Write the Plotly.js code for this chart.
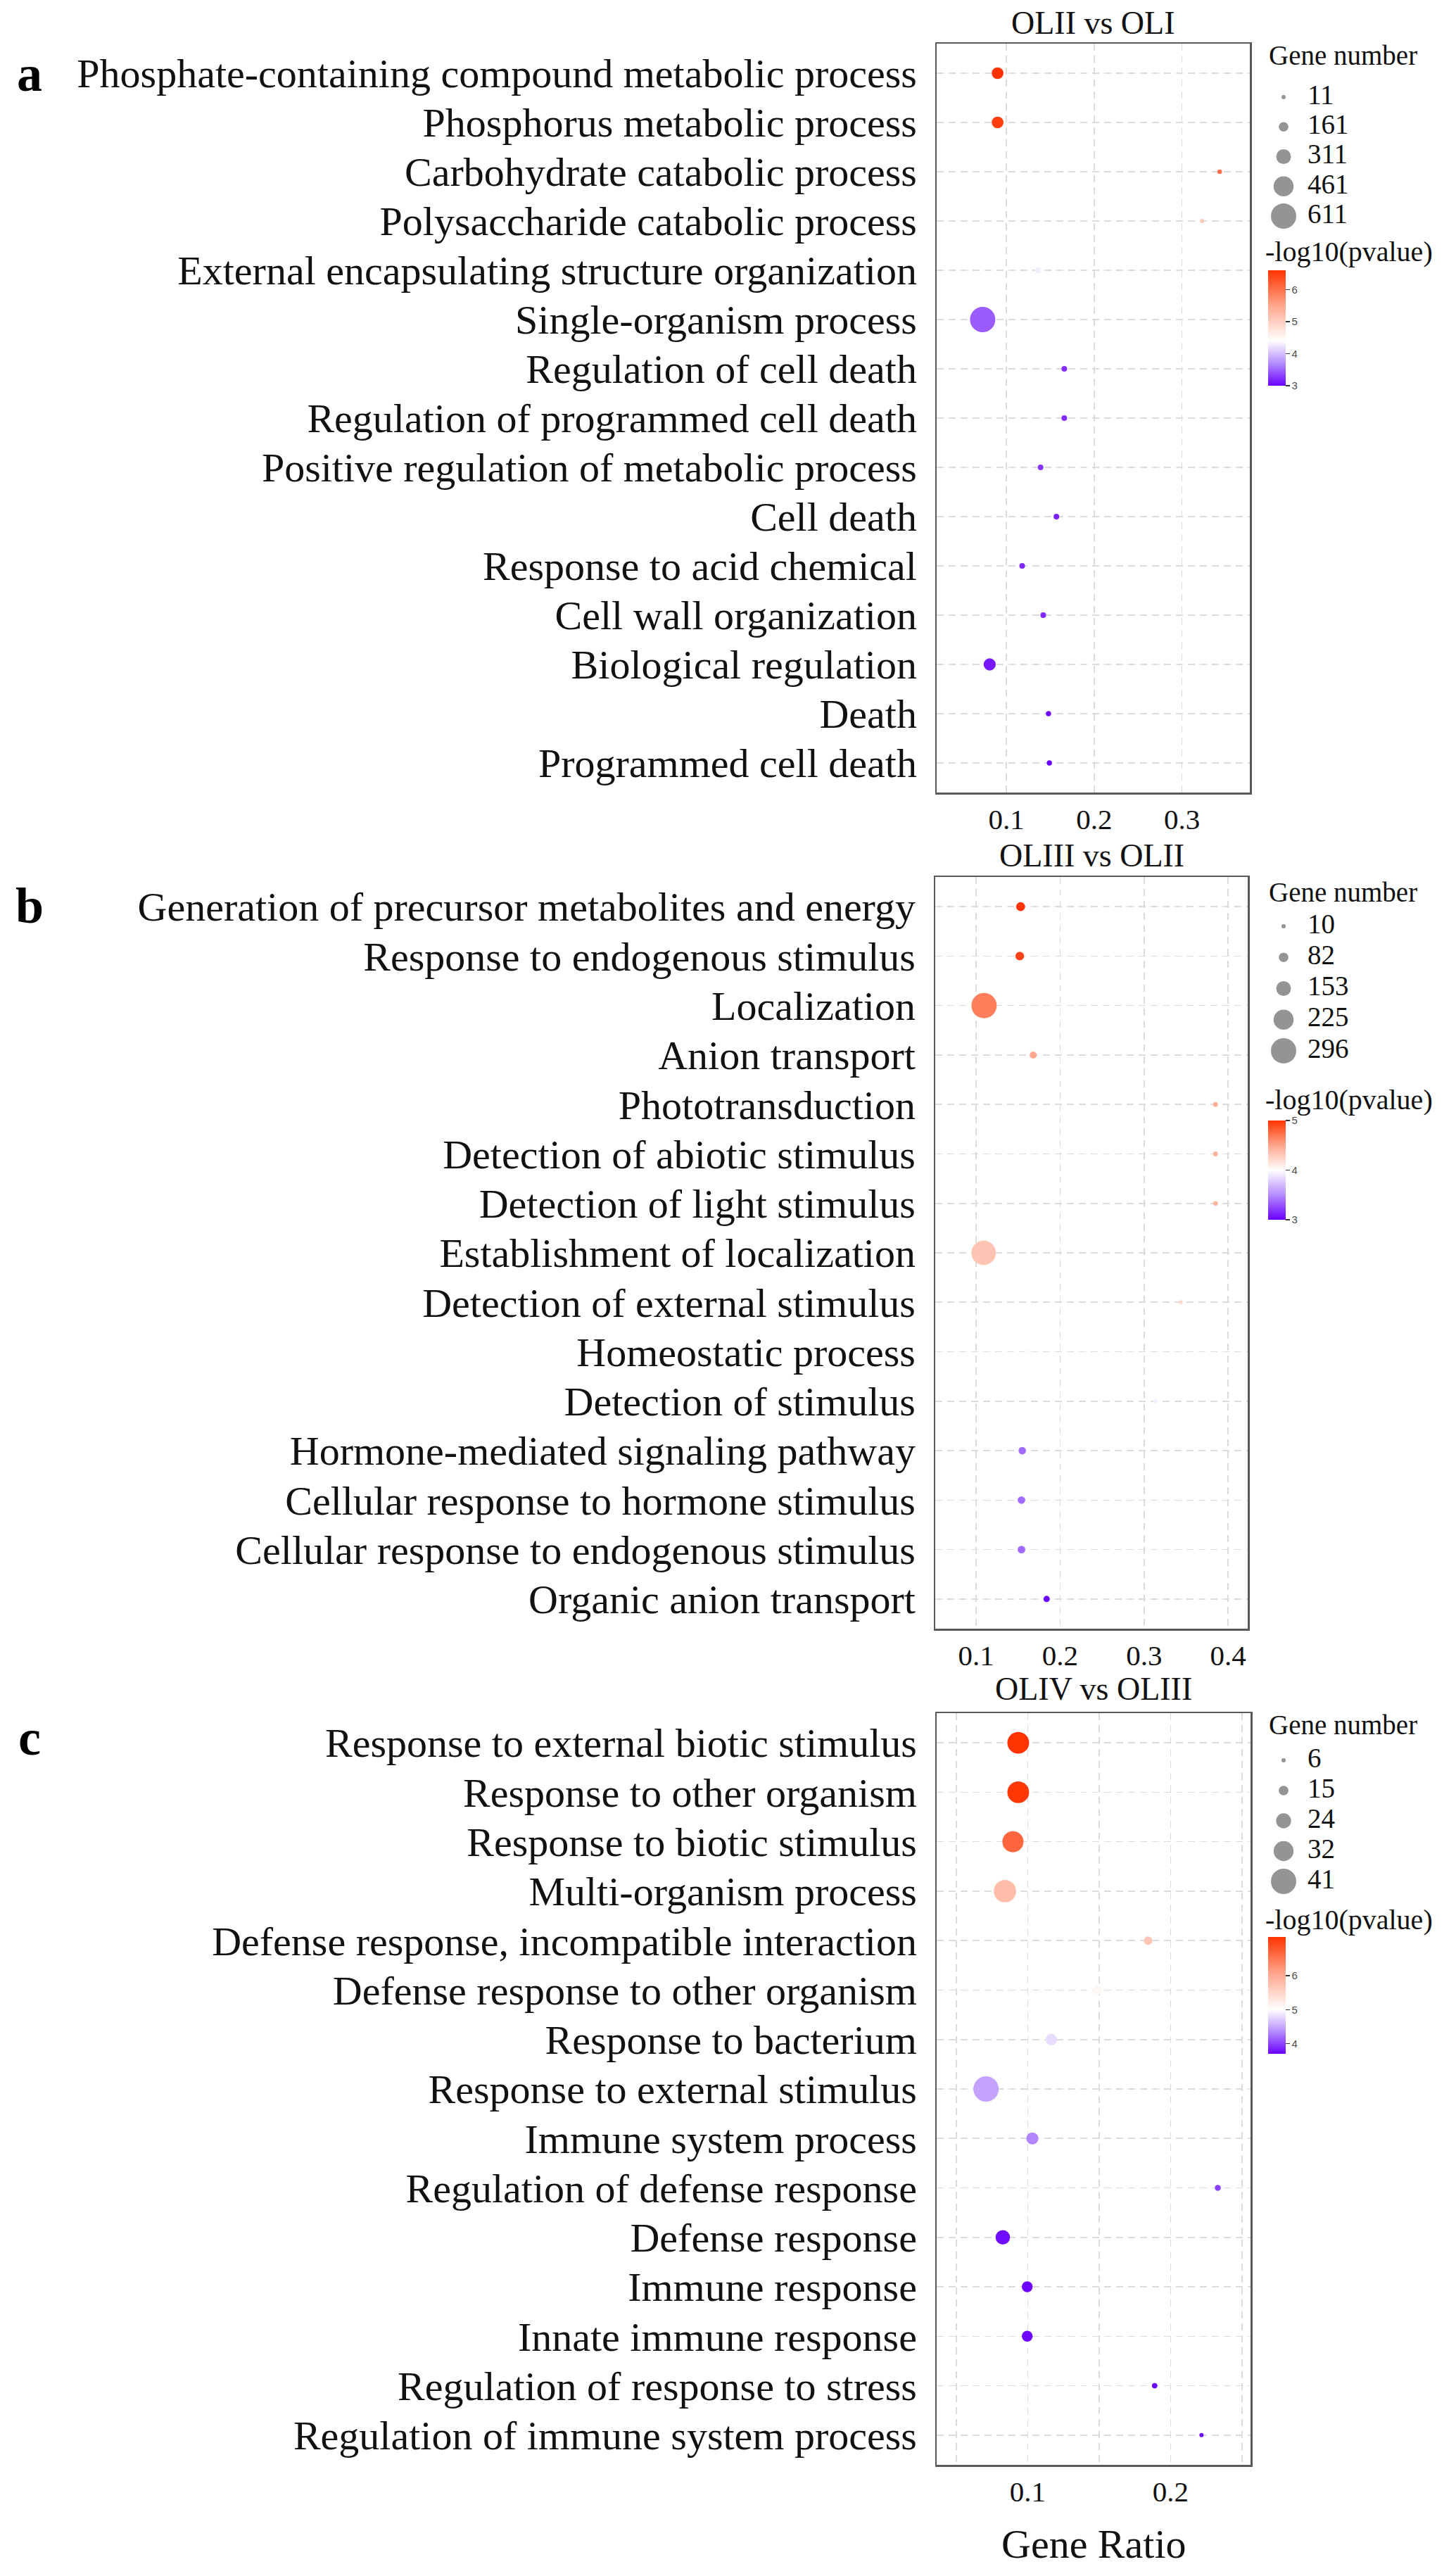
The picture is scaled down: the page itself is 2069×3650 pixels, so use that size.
<!DOCTYPE html>
<html>
<head>
<meta charset="utf-8">
<script src="https://cdn.plot.ly/plotly-3.0.1.min.js"></script>
<style>
html,body{margin:0;padding:0;background:#ffffff;}
#chart{width:2069px;height:3650px;}
</style>
</head>
<body>
<div id="chart"></div>
<script>
// ---------------- Panel a : OLII vs OLI ----------------
const titleA = "OLII vs OLI";
const termsA = ["Phosphate-containing compound metabolic process","Phosphorus metabolic process","Carbohydrate catabolic process","Polysaccharide catabolic process","External encapsulating structure organization","Single-organism process","Regulation of cell death","Regulation of programmed cell death","Positive regulation of metabolic process","Cell death","Response to acid chemical","Cell wall organization","Biological regulation","Death","Programmed cell death"];
const ratioA = [0.090,0.090,0.343,0.323,0.136,0.073,0.166,0.166,0.139,0.157,0.118,0.142,0.081,0.148,0.149];
const genesA = [225,225,24,11,60,611,51,51,51,51,51,53,237,38,38];
const logpA  = [6.6,6.5,6.0,5.05,4.3,3.46,3.23,3.22,3.25,3.15,3.2,3.2,3.12,3.05,3.0];
const sizeBreaksA = [11,161,311,461,611];
const colorTicksA = [3,4,5,6];
const xTickValsA = [0.1,0.2,0.3];
const xTickTextA = ["0.1","0.2","0.3"];

// ---------------- Panel b : OLIII vs OLII ----------------
const titleB = "OLIII vs OLII";
const termsB = ["Generation of precursor metabolites and energy","Response to endogenous stimulus","Localization","Anion transport","Phototransduction","Detection of abiotic stimulus","Detection of light stimulus","Establishment of localization","Detection of external stimulus","Homeostatic process","Detection of stimulus","Hormone-mediated signaling pathway","Cellular response to hormone stimulus","Cellular response to endogenous stimulus","Organic anion transport"];
const ratioB = [0.153,0.152,0.1095,0.168,0.385,0.385,0.385,0.109,0.3435,0.161,0.3135,0.155,0.154,0.154,0.184];
const genesB = [73,70,296,48,18,18,16,285,10,35,14,55,55,56,38];
const logpB  = [5.0,4.93,4.67,4.5,4.45,4.43,4.42,4.33,4.2,4.02,3.93,3.38,3.38,3.37,3.0];
const sizeBreaksB = [10,82,153,225,296];
const colorTicksB = [3,4,5];
const xTickValsB = [0.1,0.2,0.3,0.4];
const xTickTextB = ["0.1","0.2","0.3","0.4"];

// ---------------- Panel c : OLIV vs OLIII ----------------
const titleC = "OLIV vs OLIII";
const termsC = ["Response to external biotic stimulus","Response to other organism","Response to biotic stimulus","Multi-organism process","Defense response, incompatible interaction","Defense response to other organism","Response to bacterium","Response to external stimulus","Immune system process","Regulation of defense response","Defense response","Immune response","Innate immune response","Regulation of response to stress","Regulation of immune system process"];
const ratioC = [0.0934,0.0934,0.0897,0.0841,0.1843,0.1488,0.1166,0.0709,0.1033,0.2331,0.0826,0.0997,0.0997,0.1889,0.2217];
const genesC = [35,35,34,36,13,14,18,41,19,9,23,17,17,8,6];
const logpC  = [7.14,7.1,6.67,5.79,5.7,5.1,4.8,4.48,4.32,4.0,3.76,3.72,3.72,3.71,3.7];
const sizeBreaksC = [6,15,24,32,41];
const colorTicksC = [4,5,6];
const xTickValsC = [0.05,0.1,0.15,0.2,0.25];
const xTickTextC = ["","0.1","","0.2",""];

const xLabel = "Gene Ratio";
const sizeTitle = "Gene number";
const colorTitle = "-log10(pvalue)";
const panelLetters = ["a","b","c"];

// ---------------- styling / layout helpers ----------------
const W = 2069, H = 3650;
const SERIF = "Liberation Serif, Times New Roman, serif";
const px = v => v / W;
const py = v => 1 - v / H;

function sizeOf(v, br){
  const lo = br[0], hi = br[br.length-1];
  return 6 + 30 * (v - lo) / (hi - lo);
}
function scaleFor(vals, mid){
  const lo = Math.min(...vals), hi = Math.max(...vals);
  const w = (mid - lo) / (hi - lo);
  const wp = w / 2, wr = w + (1 - w) / 2;
  return [[0,'#6A00FF'],[wp,'#B48CFF'],[w,'#FFFFFF'],[wr,'#FFA68C'],[1,'#FF3300']];
}

const panels = [
  {terms:termsA, ratio:ratioA, genes:genesA, logp:logpA, br:sizeBreaksA, ct:colorTicksA, tv:xTickValsA, tt:xTickTextA, title:titleA,
   mid:4.4, box:[1331,1776,62,1126], xr:[0.0206,0.3773], titleY:33, letterY:105,
   leg:{gn:79, first:138, last:307, cl:358, cb:[384,548]}},
  {terms:termsB, ratio:ratioB, genes:genesB, logp:logpB, br:sizeBreaksB, ct:colorTicksB, tv:xTickValsB, tt:xTickTextB, title:titleB,
   mid:4.0, box:[1329,1773,1246,2314], xr:[0.0514,0.4233], titleY:1215, letterY:1287,
   leg:{gn:1267, first:1316, last:1493, cl:1562, cb:[1592,1733]}},
  {terms:termsC, ratio:ratioC, genes:genesC, logp:logpC, br:sizeBreaksC, ct:colorTicksC, tv:xTickValsC, tt:xTickTextC, title:titleC,
   mid:5.0, box:[1331,1777,2434,3502], xr:[0.0363,0.256], titleY:2399, letterY:2469,
   leg:{gn:2450, first:2501, last:2673, cl:2727, cb:[2752,2918]}}
];

const traces = [];
const layout = {
  width: W, height: H,
  margin:{l:0,r:0,t:0,b:0,pad:0},
  paper_bgcolor:'#ffffff', plot_bgcolor:'#ffffff',
  font:{family:SERIF, color:'#111111'},
  showlegend:false,
  annotations:[]
};

panels.forEach((p, i) => {
  const n = i + 1;
  const xa = n === 1 ? 'x' : 'x' + n;
  const ya = n === 1 ? 'y' : 'y' + n;
  const xk = n === 1 ? 'xaxis' : 'xaxis' + n;
  const yk = n === 1 ? 'yaxis' : 'yaxis' + n;
  const [l, r, t, b] = p.box;

  traces.push({
    type:'scatter', mode:'markers', x:p.ratio, y:p.terms, xaxis:xa, yaxis:ya,
    hoverinfo:'none',
    marker:{
      size:p.genes.map(v => sizeOf(v, p.br)), sizemode:'diameter',
      color:p.logp, colorscale:scaleFor(p.logp, p.mid),
      cmin:Math.min(...p.logp), cmax:Math.max(...p.logp),
      line:{width:0}, opacity:1,
      showscale:true,
      colorbar:{
        x:px(1802), xanchor:'left', xref:'paper',
        y:py(p.leg.cb[0]), yanchor:'top', yref:'paper',
        len:p.leg.cb[1]-p.leg.cb[0], lenmode:'pixels',
        thickness:25, thicknessmode:'pixels',
        xpad:0, ypad:0, outlinewidth:0, borderwidth:0,
        tickvals:p.ct, ticktext:p.ct.map(String),
        ticks:'outside', ticklen:6, tickwidth:1.5, tickcolor:'#333333',
        tickfont:{family:'Liberation Sans, Arial, sans-serif', size:15, color:'#4d4d4d'}
      }
    }
  });

  layout[xk] = {
    domain:[px(l), px(r)], anchor:ya, range:p.xr,
    tickmode:'array', tickvals:p.tv, ticktext:p.tt,
    ticks:'', ticklabelstandoff:0,
    tickfont:{family:SERIF, size:41, color:'#111111'},
    showgrid:true, gridcolor:'#dcdcdc', gridwidth:1.6, griddash:'10px,7px',
    zeroline:false, showline:true, mirror:true, linecolor:'#595959', linewidth:2.5,
    fixedrange:true
  };
  layout[yk] = {
    domain:[py(b), py(t)], anchor:xa,
    type:'category', categoryorder:'array', categoryarray:p.terms,
    range:[p.terms.length - 0.4, -0.6],
    ticks:'outside', ticklen:14, tickcolor:'rgba(0,0,0,0)',
    tickfont:{family:SERIF, size:58, color:'#111111'},
    showgrid:true, gridcolor:'#dcdcdc', gridwidth:1.6, griddash:'10px,7px',
    zeroline:false, showline:true, mirror:true, linecolor:'#595959', linewidth:2.5,
    fixedrange:true
  };

  // size legend on hidden axes
  const lx = 'x' + (n + 3), ly = 'y' + (n + 3);
  const sp = (p.leg.last - p.leg.first) / (p.br.length - 1);
  layout['xaxis' + (n + 3)] = {domain:[px(1824), px(1858)], range:[0,1], visible:false, fixedrange:true, anchor:ly};
  layout['yaxis' + (n + 3)] = {domain:[py(p.leg.last + sp/2), py(p.leg.first - sp/2)], range:[p.br.length - 0.5, -0.5], visible:false, fixedrange:true, anchor:lx};
  const idx = p.br.map((_, k) => k);
  traces.push({
    type:'scatter', mode:'markers', x:p.br.map(() => 0), y:idx, xaxis:lx, yaxis:ly,
    hoverinfo:'none', cliponaxis:false,
    marker:{size:p.br.map(v => sizeOf(v, p.br)), color:'#666666', line:{width:0}}
  });
  traces.push({
    type:'scatter', mode:'text', x:p.br.map(() => 1), y:idx, xaxis:lx, yaxis:ly,
    hoverinfo:'none', cliponaxis:false,
    text:p.br.map(String), textposition:'middle right',
    textfont:{family:SERIF, size:39, color:'#111111'}
  });

  // text annotations
  layout.annotations.push(
    {text:p.title, x:px((l + r) / 2), y:py(p.titleY), xref:'paper', yref:'paper', xanchor:'center', yanchor:'middle', showarrow:false, font:{family:SERIF, size:46, color:'#111111'}},
    {text:'<b>' + panelLetters[i] + '</b>', x:px(42), y:py(p.letterY), xref:'paper', yref:'paper', xanchor:'center', yanchor:'middle', showarrow:false, font:{family:SERIF, size:72, color:'#000000'}},
    {text:sizeTitle, x:px(1801), y:py(p.leg.gn), xref:'paper', yref:'paper', xanchor:'left', yanchor:'middle', showarrow:false, font:{family:SERIF, size:39, color:'#111111'}},
    {text:colorTitle, x:px(1796), y:py(p.leg.cl), xref:'paper', yref:'paper', xanchor:'left', yanchor:'middle', showarrow:false, font:{family:SERIF, size:40, color:'#111111'}}
  );
});

layout.annotations.push({text:xLabel, x:px(1554), y:py(3614), xref:'paper', yref:'paper', xanchor:'center', yanchor:'middle', showarrow:false, font:{family:SERIF, size:58, color:'#111111'}});

Plotly.newPlot('chart', traces, layout, {staticPlot:true, displayModeBar:false});
</script>
</body>
</html>
